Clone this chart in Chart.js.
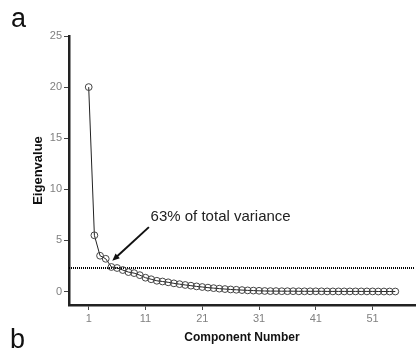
<!DOCTYPE html>
<html>
<head>
<meta charset="utf-8">
<script src="https://cdn.jsdelivr.net/npm/chart.js@4.4.1/dist/chart.umd.min.js"></script>
<style>
  html, body { margin: 0; padding: 0; background: #fff; }
  #wrap { width: 420px; height: 353px; }
</style>
</head>
<body>
<div id="wrap"><canvas id="scree" width="420" height="353"></canvas></div>
<script>
// Scree plot: eigenvalue per component
const components = Array.from({ length: 55 }, (_, i) => i + 1);
const eigenvalues = [
  20, 5.5, 3.5, 3.2, 2.4, 2.3, 2.1, 1.9, 1.8, 1.6,
  1.35, 1.2, 1.05, 0.98, 0.9, 0.8, 0.72, 0.64, 0.57, 0.5,
  0.44, 0.38, 0.33, 0.28, 0.24, 0.2, 0.17, 0.14, 0.11, 0.09,
  0.07, 0.05, 0.04, 0.04, 0.03, 0.03, 0.03, 0.02, 0.02, 0.02,
  0.02, 0.02, 0.01, 0.01, 0.01, 0.01, 0.01, 0.01, 0.01, 0.01,
  0.01, 0.0, 0.0, 0.0, 0.0
];
const cutoff = 2.3;
const xTicks = [1, 11, 21, 31, 41, 51];
const yTicks = [0, 5, 10, 15, 20, 25];
const xRange = [-2.47, 58.47];
const yRange = [-1.32, 25];

// note + arrow, in data units
const noteText = '63% of total variance';
const notePos = [11.9, 7.3];
const arrowFrom = [11.6, 6.3];
const arrowTo = [5.15, 3.0];

const FONT = 'Arial, "Liberation Sans", sans-serif';

const extras = {
  id: 'extras',
  afterDatasetsDraw(chart) {
    const { ctx, scales: { x, y } } = chart;
    ctx.save();
    // arrow
    const x1 = x.getPixelForValue(arrowFrom[0]), y1 = y.getPixelForValue(arrowFrom[1]);
    const x2 = x.getPixelForValue(arrowTo[0]), y2 = y.getPixelForValue(arrowTo[1]);
    const ang = Math.atan2(y2 - y1, x2 - x1);
    const head = 8;
    ctx.strokeStyle = '#111';
    ctx.fillStyle = '#111';
    ctx.lineWidth = 2;
    ctx.beginPath();
    ctx.moveTo(x1, y1);
    ctx.lineTo(x2 - Math.cos(ang) * head * 0.7, y2 - Math.sin(ang) * head * 0.7);
    ctx.stroke();
    ctx.beginPath();
    ctx.moveTo(x2, y2);
    ctx.lineTo(x2 - head * Math.cos(ang - 0.4), y2 - head * Math.sin(ang - 0.4));
    ctx.lineTo(x2 - head * Math.cos(ang + 0.4), y2 - head * Math.sin(ang + 0.4));
    ctx.closePath();
    ctx.fill();
    // note
    ctx.font = '15px ' + FONT;
    ctx.fillStyle = '#222';
    ctx.textAlign = 'left';
    ctx.textBaseline = 'middle';
    ctx.fillText(noteText, x.getPixelForValue(notePos[0]), y.getPixelForValue(notePos[1]));
    // panel letters
    ctx.font = '27px ' + FONT;
    ctx.fillStyle = '#111';
    ctx.textBaseline = 'alphabetic';
    ctx.fillText('a', 11, 27);
    ctx.fillText('b', 10, 348);
    ctx.restore();
  }
};

new Chart(document.getElementById('scree'), {
  type: 'line',
  data: {
    datasets: [
      {
        label: 'Eigenvalue',
        data: components.map((c, i) => ({ x: c, y: eigenvalues[i] })),
        borderColor: '#222',
        borderWidth: 1,
        pointRadius: 3.4,
        pointBorderColor: '#444',
        pointBorderWidth: 1,
        pointBackgroundColor: 'rgba(0,0,0,0)',
        tension: 0
      },
      {
        label: 'cutoff',
        data: [{ x: xRange[0], y: cutoff }, { x: xRange[1], y: cutoff }],
        borderColor: '#000',
        borderWidth: 2,
        borderDash: [1, 1],
        pointRadius: 0
      }
    ]
  },
  options: {
    responsive: false,
    animation: false,
    layout: { padding: { top: 36, right: 0, left: 0, bottom: 0 } },
    plugins: { legend: { display: false }, tooltip: { enabled: false } },
    scales: {
      x: {
        type: 'linear',
        min: xRange[0],
        max: xRange[1],
        afterBuildTicks: s => { s.ticks = xTicks.map(v => ({ value: v })); },
        afterFit: s => { s.height = 48; },
        border: { color: '#222', width: 2.5 },
        grid: { drawOnChartArea: false, drawTicks: true, tickLength: 5, color: '#444' },
        ticks: { color: '#808080', padding: 2, font: { size: 11, family: FONT } },
        title: {
          display: true,
          text: 'Component Number',
          color: '#111',
          font: { size: 12, weight: 'bold', family: FONT },
          padding: { top: 0, bottom: 8 }
        }
      },
      y: {
        min: yRange[0],
        max: yRange[1],
        afterBuildTicks: s => { s.ticks = yTicks.map(v => ({ value: v })); },
        afterFit: s => { s.width = 69; },
        border: { color: '#222', width: 2.5 },
        grid: { drawOnChartArea: false, drawTicks: true, tickLength: 5, color: '#444' },
        ticks: { color: '#808080', padding: 2, font: { size: 11, family: FONT } },
        title: {
          display: true,
          text: 'Eigenvalue',
          color: '#111',
          font: { size: 13, weight: 'bold', family: FONT },
          padding: { top: 31, bottom: 0 }
        }
      }
    }
  },
  plugins: [extras]
});
</script>
</body>
</html>
